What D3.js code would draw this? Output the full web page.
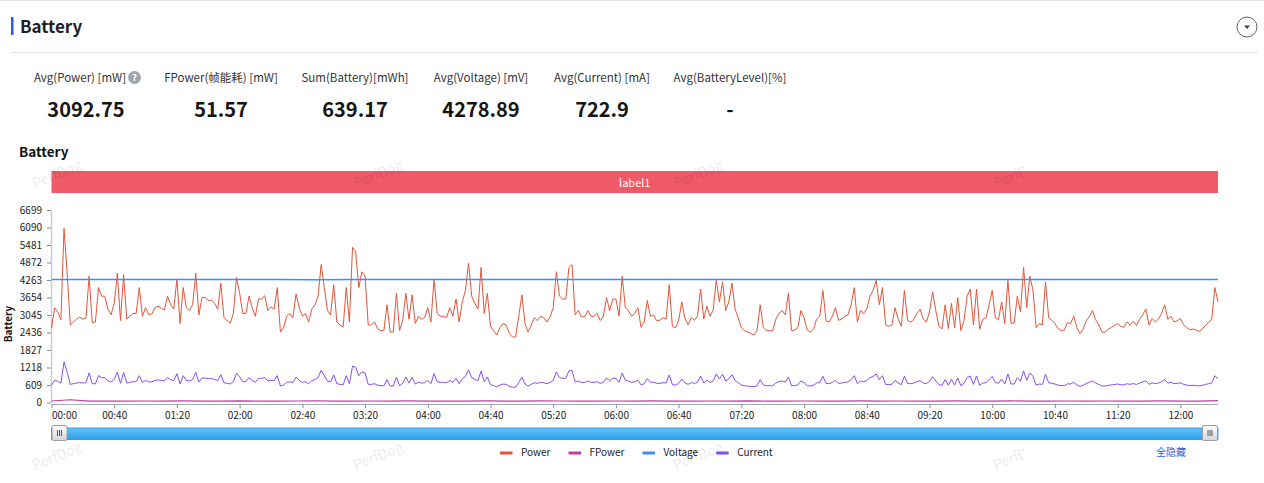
<!DOCTYPE html>
<html>
<head>
<meta charset="utf-8">
<script src="https://cdn.jsdelivr.net/npm/d3@7"></script>
<style>
body { margin: 0; background: #fff; }
svg { display: block; font-family: "Noto Sans CJK SC", "Noto Sans", sans-serif; }
</style>
</head>
<body>
<svg id="chart" width="1264" height="483"></svg>
<script>
// summary numbers at the top
var statLabels = ["Avg(Power) [mW]", "FPower(帧能耗) [mW]", "Sum(Battery)[mWh]", "Avg(Voltage) [mV]", "Avg(Current) [mA]", "Avg(BatteryLevel)[%]"];
var statValues = ["3092.75", "51.57", "639.17", "4278.89", "722.9", "-"];

var seriesNames = ["Power", "FPower", "Voltage", "Current"];
var seriesColors = ["#e2553b", "#c13aa8", "#3b8ff5", "#8450ee"];

var yTicks = [0, 609, 1218, 1827, 2436, 3045, 3654, 4263, 4872, 5481, 6090, 6699];
var xTicks = [0, 40, 80, 120, 160, 200, 240, 280, 320, 360, 400, 440, 480, 520, 560, 600, 640, 680, 720];
var duration = 744;

// sample spacing in seconds for each series
var powerStep = 2, currentStep = 2, voltageStep = 24, fpowerStep = 12;

var power = [
  2580, 3300, 3150, 2880, 6060, 4500, 2700, 2800, 2900, 2970,
  2900, 2950, 4400, 2780, 2800, 4000, 3700, 3700, 3250, 3050,
  3450, 4500, 2850, 4450, 2900, 3000, 3100, 3100, 4000, 3000,
  3300, 3060, 3080, 3300, 3350, 3280, 3220, 3700, 3400, 3250,
  4300, 2750, 4000, 3300, 3200, 3400, 4500, 3050, 3650, 3650,
  3550, 3560, 3450, 3250, 4150, 2950, 2850, 2760, 3100, 4350,
  3800, 3100, 3100, 3700, 3300, 3000, 3600, 3600, 3720, 3200,
  3330, 3240, 4000, 2450, 2600, 3000, 3090, 2950, 3780, 3300,
  3000, 3100, 2800, 3250, 3400, 3700, 4800, 4000, 3200, 3050,
  4100, 2800, 2700, 2620, 4000, 2800, 5400, 5250, 4000, 4550,
  4400, 2700, 2700, 2800, 2570, 2500, 2500, 3400, 2450, 2450,
  3800, 2500, 2850, 3800, 2900, 3750, 2750, 3000, 2900, 2950,
  3300, 2800, 4300, 3100, 3000, 3000, 2950, 3300, 3000, 3600,
  2800, 3500, 3900, 4850, 3700, 3450, 3250, 4700, 3100, 3800,
  2650, 2500, 2350, 2600, 2750, 2700, 2400, 2280, 2280, 3000,
  3750, 2750, 2450, 2700, 2950, 2850, 3000, 2950, 2800, 2980,
  3300, 4550, 3700, 3600, 3600, 4700, 4800, 3050, 3200, 2980,
  2980, 3200, 3000, 3000, 3100, 2850, 3000, 3650, 3200, 3600,
  3600, 3000, 4400, 3300, 3200, 3000, 3100, 3300, 2620, 2800,
  3550, 3000, 3040, 2850, 2860, 2950, 2900, 4100, 2650, 2600,
  2850, 3500, 2930, 2700, 2950, 2860, 3000, 3950, 2900, 3350,
  3000, 3200, 4250, 3500, 4200, 3200, 3500, 4150, 3250, 2950,
  2600, 2500, 2450, 2400, 2350, 2500, 3400, 2600, 2500, 2500,
  2500, 2900, 3100, 3200, 3050, 3800, 2500, 2520, 2600, 3200,
  2950, 2520, 2450, 2550, 2900, 3000, 3900, 2850, 2800, 3000,
  3300, 2860, 2900, 3000, 3050, 3400, 4000, 2800, 3200, 3100,
  3250, 3700, 3900, 4250, 3400, 4000, 2700, 2650, 2700, 3300,
  2900, 2650, 3900, 2850, 2800, 2900, 3100, 3250, 2900, 2800,
  3150, 3850, 3200, 2650, 2560, 3400, 2570, 3450, 2600, 3650,
  2500, 2850, 3700, 3950, 2700, 3950, 2550, 2900, 2950, 3400,
  3900, 2950, 2880, 3500, 2750, 4250, 2760, 2760, 3700, 3150,
  4700, 3300, 4400, 3900, 2600, 2750, 2700, 4200, 2950, 2860,
  2750, 2570, 2500, 2520, 2780, 2750, 3000, 2600, 2400, 2550,
  2850, 3000, 3200, 2880, 2700, 2450, 2450, 2550, 2620, 2680,
  2750, 2650, 2620, 2800, 2700, 2830, 2680, 2900, 3050, 3250,
  2700, 2920, 2800, 2900, 3100, 3400, 2900, 3000, 2800, 2850,
  2920, 2700, 2600, 2530, 2560, 2520, 2470, 2560, 2680, 2800,
  2900, 4000, 3500
];

var current = [
  603, 771, 736, 673, 1416, 1052, 631, 654, 678, 694,
  678, 689, 1028, 650, 654, 935, 865, 865, 760, 713,
  806, 1052, 666, 1040, 678, 701, 724, 724, 935, 701,
  771, 715, 720, 771, 783, 767, 753, 865, 795, 760,
  1005, 643, 935, 771, 748, 795, 1052, 713, 853, 853,
  830, 832, 806, 760, 970, 689, 666, 645, 724, 1017,
  888, 724, 724, 865, 771, 701, 841, 841, 869, 748,
  778, 757, 935, 573, 608, 701, 722, 689, 883, 771,
  701, 724, 654, 760, 795, 865, 1122, 935, 748, 713,
  958, 654, 631, 612, 935, 654, 1262, 1227, 935, 1063,
  1028, 631, 631, 654, 601, 584, 584, 795, 573, 573,
  888, 584, 666, 888, 678, 876, 643, 701, 678, 689,
  771, 654, 1005, 724, 701, 701, 689, 771, 701, 841,
  654, 818, 911, 1133, 865, 806, 760, 1098, 724, 888,
  619, 584, 549, 608, 643, 631, 561, 533, 533, 701,
  876, 643, 573, 631, 689, 666, 701, 689, 654, 696,
  771, 1063, 865, 841, 841, 1098, 1122, 713, 748, 696,
  696, 748, 701, 701, 724, 666, 701, 853, 748, 841,
  841, 701, 1028, 771, 748, 701, 724, 771, 612, 654,
  830, 701, 710, 666, 668, 689, 678, 958, 619, 608,
  666, 818, 685, 631, 689, 668, 701, 923, 678, 783,
  701, 748, 993, 818, 982, 748, 818, 970, 760, 689,
  608, 584, 573, 561, 549, 584, 795, 608, 584, 584,
  584, 678, 724, 748, 713, 888, 584, 589, 608, 748,
  689, 589, 573, 596, 678, 701, 911, 666, 654, 701,
  771, 668, 678, 701, 713, 795, 935, 654, 748, 724,
  760, 865, 911, 993, 795, 935, 631, 619, 631, 771,
  678, 619, 911, 666, 654, 678, 724, 760, 678, 654,
  736, 900, 748, 619, 598, 795, 601, 806, 608, 853,
  584, 666, 865, 923, 631, 923, 596, 678, 689, 795,
  911, 689, 673, 818, 643, 993, 645, 645, 865, 736,
  1098, 771, 1028, 911, 608, 643, 631, 982, 689, 668,
  643, 601, 584, 589, 650, 643, 701, 608, 561, 596,
  666, 701, 748, 673, 631, 573, 573, 596, 612, 626,
  643, 619, 612, 654, 631, 661, 626, 678, 713, 760,
  631, 682, 654, 678, 724, 795, 678, 701, 654, 666,
  682, 631, 608, 591, 598, 589, 577, 598, 626, 654,
  678, 935, 818
];

var voltage = [
  4281, 4279, 4278, 4280, 4277, 4279, 4278, 4276, 4279, 4280,
  4278, 4277, 4279, 4278, 4280, 4279, 4277, 4278, 4279, 4280,
  4278, 4277, 4279, 4278, 4280, 4279, 4278, 4277, 4279, 4280,
  4278, 4279
];

var fpower = [
  52, 96, 48, 50, 47, 53, 49, 55, 51, 46,
  58, 50, 48, 52, 61, 49, 47, 53, 50, 56,
  48, 51, 47, 54, 50, 49, 57, 52, 48, 50,
  53, 47, 55, 51, 49, 52, 48, 58, 50, 47,
  53, 51, 49, 55, 48, 52, 50, 47, 54, 49,
  51, 56, 48, 50, 53, 47, 52, 49, 51, 55,
  48, 50, 62
];

var svg = d3.select("#chart");

// frame of the panel
svg.append("line").attr("x1", 0).attr("x2", 1264).attr("y1", 0.5).attr("y2", 0.5)
    .attr("stroke", "#e3e6ee");
svg.append("rect").attr("x", 11).attr("y", 17).attr("width", 2.5).attr("height", 18)
    .attr("fill", "#3456e8");
svg.append("text").attr("x", 20).attr("y", 33).text("Battery")
    .attr("font-size", 17).attr("font-weight", "bold").attr("fill", "#1e1e28");
svg.append("line").attr("x1", 11).attr("x2", 1258).attr("y1", 52.5).attr("y2", 52.5)
    .attr("stroke", "#dde2ec");

// collapse button
svg.append("circle").attr("cx", 1247).attr("cy", 27).attr("r", 10)
    .attr("fill", "#fff").attr("stroke", "#60636e");
svg.append("path").attr("d", "M1244,25.5 L1250,25.5 L1247,29 Z").attr("fill", "#3a3d48");

// stat columns
var statCenters = [86, 221, 355, 481, 602, 730];
var stats = svg.selectAll(".stat").data(statLabels).enter().append("g")
    .attr("class", "stat")
    .attr("transform", function (d, i) { return "translate(" + statCenters[i] + ",0)"; });
stats.append("text")
    .attr("x", function (d, i) { return i == 0 ? -6 : 0; })
    .attr("y", 82).attr("text-anchor", "middle")
    .attr("font-size", 11.5).attr("fill", "#333")
    .text(function (d) { return d; });
stats.append("text")
    .attr("y", 117).attr("text-anchor", "middle")
    .attr("font-size", 20).attr("font-weight", "bold").attr("fill", "#151515")
    .text(function (d, i) { return statValues[i]; });
svg.append("circle").attr("cx", 134.5).attr("cy", 77.5).attr("r", 6.5).attr("fill", "#a0a4b0");
svg.append("text").attr("x", 134.5).attr("y", 81).attr("text-anchor", "middle")
    .attr("font-size", 9.5).attr("font-weight", "bold").attr("fill", "#fff").text("?");

// chart title
svg.append("text").attr("x", 19).attr("y", 157).text("Battery")
    .attr("font-size", 13.5).attr("font-weight", "bold").attr("fill", "#111");

var x = d3.scaleLinear().domain([0, duration]).range([51.5, 1218]);
var y = d3.scaleLinear().domain([0, 6699]).range([402.5, 210]);

// label band
svg.append("rect").attr("x", x(0)).attr("y", 171).attr("width", x(duration) - x(0)).attr("height", 22)
    .attr("fill", "#ef5a68");
svg.append("text").attr("x", (x(0) + x(duration)) / 2).attr("y", 186.5).attr("text-anchor", "middle")
    .attr("font-size", 11).attr("fill", "#fff").text("label1");

// axes
var yAxis = svg.append("g").attr("transform", "translate(51,0)")
    .call(d3.axisLeft(y).tickValues(yTicks).tickFormat(d3.format("d"))
        .tickSize(4).tickSizeOuter(0).tickPadding(5));
yAxis.select(".domain").attr("stroke", "#c8ccd8").attr("stroke-width", 1.5);
yAxis.selectAll(".tick line").attr("stroke", "#8a8e9a");
yAxis.selectAll(".tick text").attr("font-size", 10).attr("fill", "#222")
    .attr("font-family", "'Noto Sans CJK SC', 'Noto Sans', sans-serif");

function mmss(s) {
    var m = Math.floor(s / 60), r = s % 60;
    return (m < 10 ? "0" : "") + m + ":" + (r < 10 ? "0" : "") + r;
}

var xAxis = svg.append("g").attr("transform", "translate(0,404)")
    .call(d3.axisBottom(x).tickValues(xTicks).tickFormat(mmss).tickSize(4).tickSizeOuter(0).tickPadding(4));
xAxis.select(".domain").attr("stroke", "#a6aab6");
xAxis.selectAll(".tick line").attr("stroke", "#8a8e9a");
xAxis.selectAll(".tick text").attr("font-size", 10).attr("fill", "#222")
    .attr("font-family", "'Noto Sans CJK SC', 'Noto Sans', sans-serif")
    .attr("text-anchor", function (d) { return d == 0 ? "start" : "middle"; });

svg.append("text").attr("transform", "translate(12,324) rotate(-90)")
    .attr("text-anchor", "middle").attr("font-size", 10).attr("font-weight", "bold")
    .attr("fill", "#111").text("Battery");

// series lines
function drawLine(values, step, color, w) {
    var line = d3.line()
        .x(function (d, i) { return x(i * step); })
        .y(function (d) { return y(d); });
    svg.append("path").datum(values).attr("d", line)
        .attr("fill", "none").attr("stroke", color).attr("stroke-width", w)
        .attr("stroke-linejoin", "round");
}
drawLine(power, powerStep, seriesColors[0], 1);
drawLine(fpower, fpowerStep, seriesColors[1], 1.2);
drawLine(voltage, voltageStep, seriesColors[2], 1.5);
drawLine(current, currentStep, seriesColors[3], 1);

// zoom slider
var defs = svg.append("defs");
var g1 = defs.append("linearGradient").attr("id", "barGrad").attr("x1", 0).attr("x2", 0).attr("y1", 0).attr("y2", 1);
g1.append("stop").attr("offset", "0%").attr("stop-color", "#62c2fa");
g1.append("stop").attr("offset", "100%").attr("stop-color", "#2d9fe8");
var g2 = defs.append("linearGradient").attr("id", "handleGrad").attr("x1", 0).attr("x2", 0).attr("y1", 0).attr("y2", 1);
g2.append("stop").attr("offset", "0%").attr("stop-color", "#fdfdfd");
g2.append("stop").attr("offset", "100%").attr("stop-color", "#d4d6da");

svg.append("rect").attr("x", x(0)).attr("y", 428).attr("width", x(duration) - x(0)).attr("height", 11.5)
    .attr("fill", "url(#barGrad)").attr("stroke", "#2a8ad0").attr("stroke-width", 0.8);

[x(0), x(duration) - 16].forEach(function (hx) {
    svg.append("rect").attr("x", hx + 0.5).attr("y", 425.5).attr("width", 15).attr("height", 15).attr("rx", 1.5)
        .attr("fill", "url(#handleGrad)").attr("stroke", "#9a9ca4");
    [-2, 0, 2].forEach(function (o) {
        svg.append("line").attr("x1", hx + 8 + o).attr("x2", hx + 8 + o).attr("y1", 430).attr("y2", 436)
            .attr("stroke", "#555");
    });
});

// legend
var lx = 500;
seriesNames.forEach(function (name, i) {
    svg.append("rect").attr("x", lx).attr("y", 451.5).attr("width", 12.5).attr("height", 3)
        .attr("fill", seriesColors[i]);
    var t = svg.append("text").attr("x", lx + 21).attr("y", 456).attr("font-size", 10)
        .attr("fill", "#222").text(name);
    lx += 21 + t.node().getComputedTextLength() + 18;
});
svg.append("text").attr("x", 1156).attr("y", 456).attr("font-size", 10).attr("fill", "#1f5fe0").text("全隐藏");

// watermark
defs.append("clipPath").attr("id", "wmClip").append("rect")
    .attr("x", 0).attr("y", 0).attr("width", 1024).attr("height", 483);
var wm = svg.append("g").attr("clip-path", "url(#wmClip)");
[57, 378, 698, 1018].forEach(function (cx) {
    [174, 456].forEach(function (cy) {
        wm.append("text").attr("transform", "translate(" + cx + "," + cy + ") rotate(-22)")
            .attr("text-anchor", "middle").attr("dy", "0.35em").attr("font-size", 14)
            .attr("fill", "#000").attr("fill-opacity", 0.1).text("PerfDog");
    });
});
</script>
</body>
</html>
